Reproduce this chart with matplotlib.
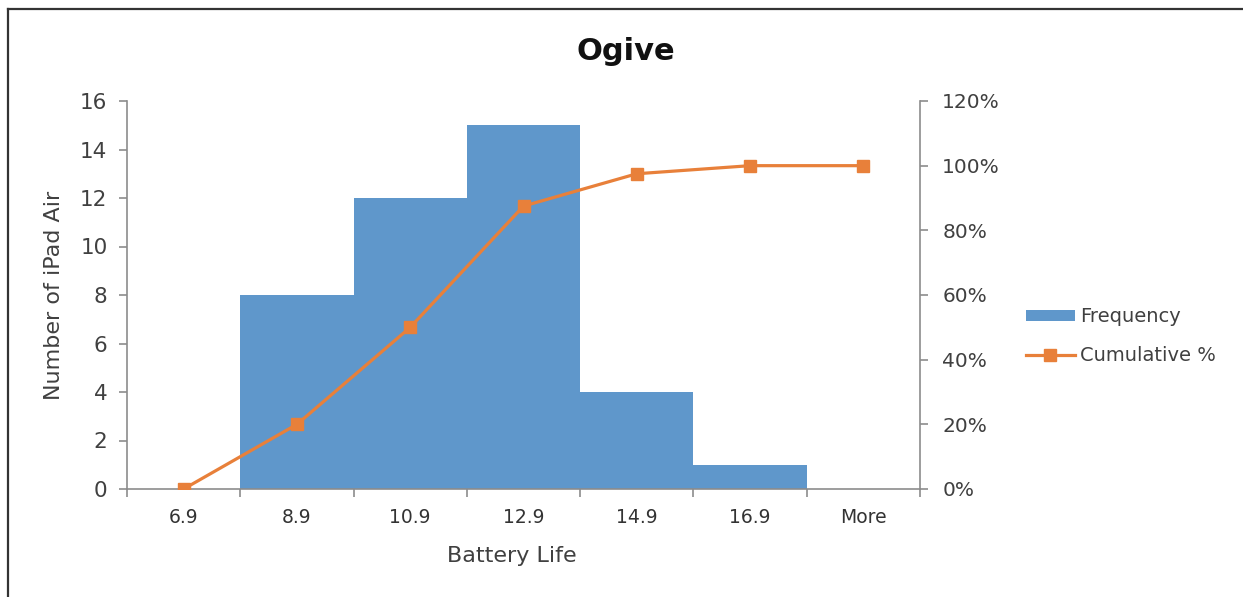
# ogive: histograma de duracio de bateria amb percentatge acumulat a l'eix dret

import matplotlib.pyplot as plt
from matplotlib.lines import Line2D
from matplotlib.patches import Patch
from matplotlib.ticker import FuncFormatter

bins       = ["6.9", "8.9", "10.9", "12.9", "14.9", "16.9", "More"]
frequency  = [0, 8, 12, 15, 4, 1, 0]
cumulative = [0.0, 20.0, 50.0, 87.5, 97.5, 100.0, 100.0]

BLUE   = "#5F97CB"
ORANGE = "#E8803A"
SPINE  = "#8C8C8C"
TEXT   = "#404040"

plt.rcParams['font.family'] = ['DejaVu Sans']

fig = plt.figure(figsize=(12.43, 5.97), dpi=100)
ax = fig.add_axes([127/1243, 1 - 489/597, (920 - 127)/1243, (489 - 101)/597])
ax2 = ax.twinx()

x = list(range(len(bins)))
ax.bar(x, frequency, width=1.0, color=BLUE, edgecolor="none", zorder=2)
ax2.plot(x, cumulative, color=ORANGE, lw=2.3, marker="s", markersize=9,
         markeredgecolor=ORANGE, zorder=3)

ax.set_xlim(-0.5, len(bins) - 0.5)
ax.set_ylim(0, 16)
ax.set_yticks(range(0, 17, 2))
ax2.set_ylim(0, 120)
ax2.set_yticks(range(0, 121, 20))
ax2.yaxis.set_major_formatter(FuncFormatter(lambda v, p: f"{v:.0f}%"))

# etiquetes al centre, ticks a les fronteres entre categories
ax.set_xticks(x)
ax.set_xticklabels(bins)
ax.set_xticks([i - 0.5 for i in range(len(bins) + 1)], minor=True)
ax.tick_params(axis="x", which="major", length=0, pad=14, labelsize=13.5, labelcolor="#333333")
ax.tick_params(axis="x", which="minor", length=6, width=1.2, color=SPINE, direction="out")
ax.tick_params(axis="y", length=6, width=1.2, color=SPINE, direction="out", pad=8,
               labelsize=15.5, labelcolor=TEXT)
ax2.tick_params(axis="y", length=6, width=1.2, color=SPINE, direction="out", pad=10,
                labelsize=14.5, labelcolor=TEXT)

for a in (ax, ax2):
    a.spines["top"].set_visible(False)
    for s in ("left", "right", "bottom"):
        a.spines[s].set_color(SPINE)
        a.spines[s].set_linewidth(1.2)
ax.spines["right"].set_visible(False)
ax2.spines["left"].set_visible(False)
ax2.spines["bottom"].set_visible(False)

ax.set_xlabel("Battery Life", fontsize=16, color=TEXT)
ax.xaxis.set_label_coords((512 - 127) / (920 - 127), -0.148)
ax.set_ylabel("Number of iPad Air", fontsize=16, color=TEXT, labelpad=12)

fig.text(626/1243, 1 - 52/597, "Ogive", fontsize=22, fontweight="bold",
         color="#111111", ha="center", va="center")

handles = [Patch(facecolor=BLUE, edgecolor="none"),
           Line2D([], [], color=ORANGE, lw=2.3, marker="s", markersize=9)]
fig.legend(handles, ["Frequency", "Cumulative %"], loc="center left",
           bbox_to_anchor=(1026/1243, 1 - 336/597), frameon=False, fontsize=14,
           handlelength=2.5, handleheight=0.5, handletextpad=0.3,
           labelspacing=1.0, borderpad=0, borderaxespad=0, labelcolor=TEXT)

# marc exterior del grafic
fig.add_artist(Line2D([8/1243, 1], [1 - 9/597, 1 - 9/597], color="#333333", lw=1.6))
fig.add_artist(Line2D([8/1243, 8/1243], [0, 1 - 9/597], color="#333333", lw=1.6))

fig.savefig("out.png", dpi=100)
